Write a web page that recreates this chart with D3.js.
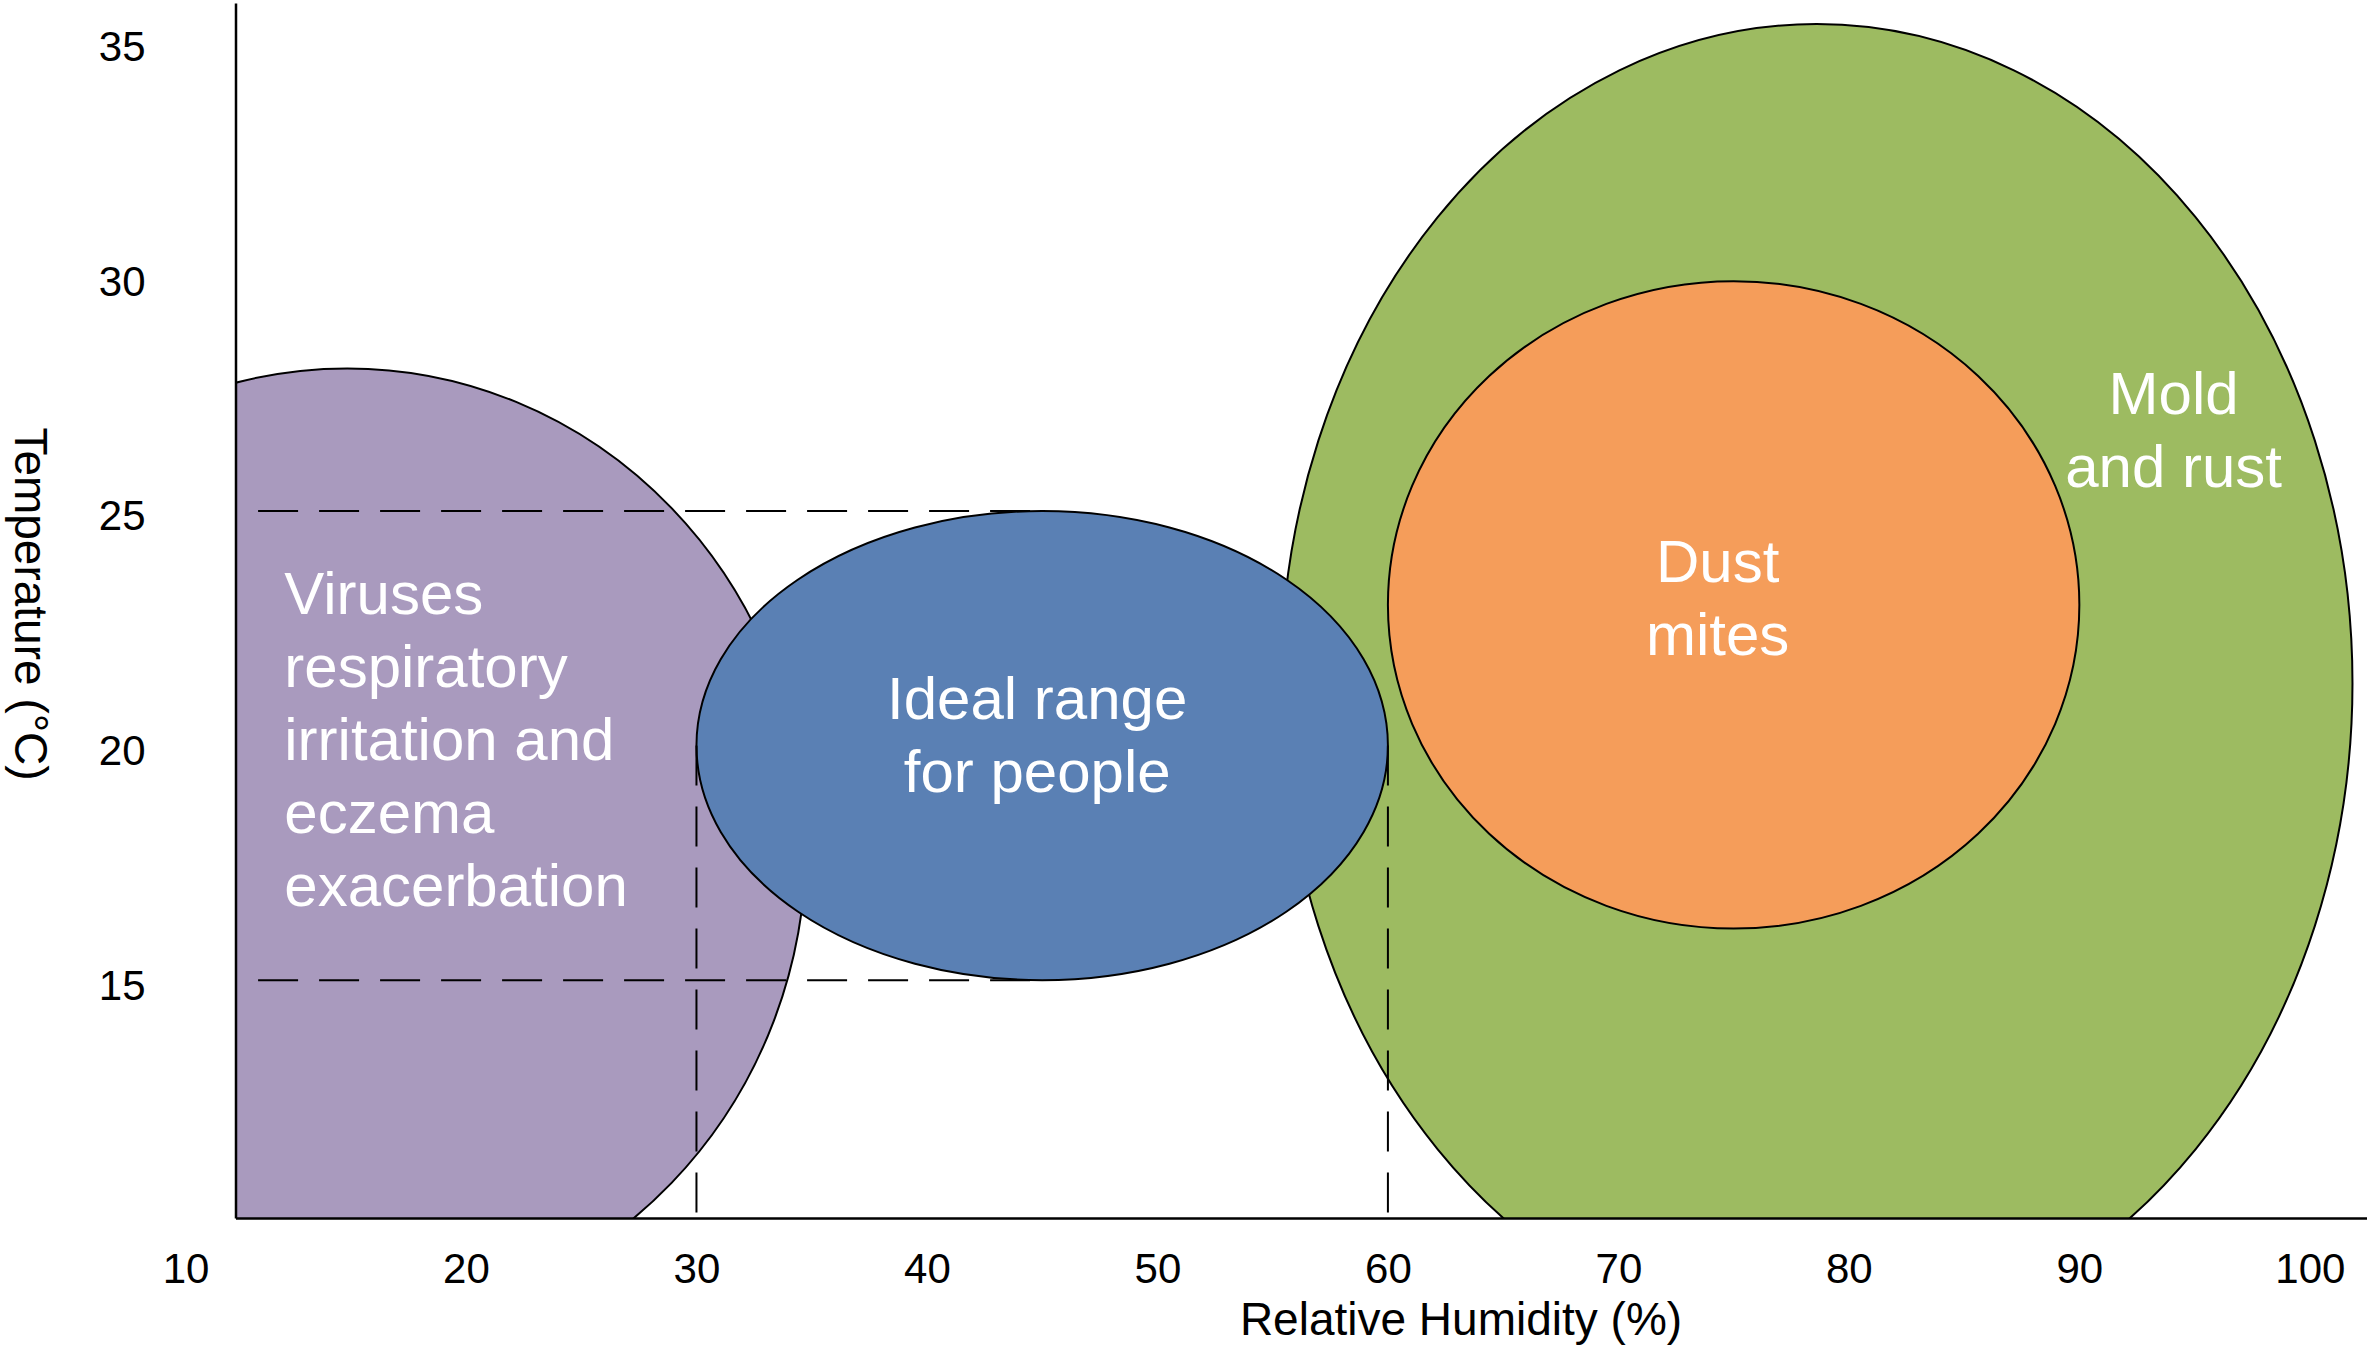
<!DOCTYPE html>
<html>
<head>
<meta charset="utf-8">
<script src="https://cdn.jsdelivr.net/npm/d3@7"></script>
<style>
  body { margin: 0; background: #fff; }
  text { font-family: "Liberation Sans", Arial, sans-serif; }
</style>
</head>
<body>
<div class="chart"></div>
<script>
// tick labels
const humidityTicks = [10, 20, 30, 40, 50, 60, 70, 80, 90, 100];
const tempTicks = [15, 20, 25, 30, 35];

// zones: centre and half-range in humidity (%) / temperature (°C)
const zoneNames = ['viruses', 'mold', 'dust', 'ideal'];
const zoneLabels = [
  ['Viruses', 'respiratory', 'irritation and', 'eczema', 'exacerbation'],
  ['Mold', 'and rust'],
  ['Dust', 'mites'],
  ['Ideal range', 'for people']
];
const zoneHumidity = [14.85, 78.6, 75, 45];
const zoneTemp = [17.87, 21.33, 23, 20];
const zoneHumiditySpread = [19.9, 23.25, 15, 15];
const zoneTempSpread = [10.17, 14.05, 6.9, 5];

// ideal range guide lines
const idealHumidity = [30, 60];
const idealTemp = [15, 25];
const guideStartHumidity = 10.98;

// styles / label layout (pixels, relative to zone centre)
const zoneColors = ['#a99abe', '#9dbb61', '#f59d5a', '#5a80b4'];
const labelOffset = [[-63, -232, 'start'], [357, -269, 'middle'], [-16, -23, 'middle'], [-5, -27, 'middle']];
const lineHeight = 73;

const width = 2367, height = 1348;
const plotLeft = 235.5, plotTop = 3, plotBottom = 1218;

const x = d3.scaleLinear().domain([10, 102.48]).range([plotLeft, width]);
const y = d3.scaleLinear().domain([9.93, 35.83]).range([plotBottom, plotTop]);

const svg = d3.select('.chart')
  .append('svg')
  .attr('width', width)
  .attr('height', height);

svg.append('clipPath')
  .attr('id', 'plotclip')
  .append('rect')
  .attr('x', plotLeft)
  .attr('y', 0)
  .attr('width', width - plotLeft)
  .attr('height', plotBottom);

const zones = zoneNames.map((name, i) => ({
  name: name,
  lines: zoneLabels[i],
  cx: zoneHumidity[i],
  cy: zoneTemp[i],
  rx: zoneHumiditySpread[i],
  ry: zoneTempSpread[i],
  color: zoneColors[i],
  off: labelOffset[i]
}));

const shapes = svg.append('g').attr('clip-path', 'url(#plotclip)');

shapes.selectAll('ellipse')
  .data(zones)
  .enter()
  .append('ellipse')
  .attr('cx', d => x(d.cx))
  .attr('cy', d => y(d.cy))
  .attr('rx', d => x(d.cx + d.rx) - x(d.cx))
  .attr('ry', d => y(d.cy - d.ry) - y(d.cy))
  .style('fill', d => d.color)
  .style('stroke', 'black')
  .style('stroke-width', '2px');

// dashed guides for the ideal range
const ideal = zones[3];
const guides = svg.append('g')
  .style('stroke', 'black')
  .style('stroke-width', '2px')
  .style('stroke-dasharray', '40,21');

idealTemp.forEach(t => {
  guides.append('line')
    .attr('x1', x(guideStartHumidity))
    .attr('x2', x(ideal.cx))
    .attr('y1', y(t))
    .attr('y2', y(t));
});
idealHumidity.forEach(h => {
  guides.append('line')
    .attr('x1', x(h))
    .attr('x2', x(h))
    .attr('y1', y(ideal.cy))
    .attr('y2', y.range()[0]);
});

// zone labels
zones.forEach(d => {
  const t = svg.append('text')
    .attr('x', x(d.cx) + d.off[0])
    .attr('y', y(d.cy) + d.off[1])
    .attr('text-anchor', d.off[2])
    .style('fill', 'white')
    .style('font-size', '60px');
  d.lines.forEach((line, j) => {
    t.append('tspan')
      .attr('x', x(d.cx) + d.off[0])
      .attr('y', y(d.cy) + d.off[1] + j * lineHeight)
      .text(line);
  });
});

// axes
const xAxis = svg.append('g')
  .attr('transform', `translate(0,${plotBottom})`)
  .call(d3.axisBottom(x).tickValues(humidityTicks).tickSize(0).tickSizeOuter(0).tickPadding(35));
const yAxis = svg.append('g')
  .attr('transform', `translate(${plotLeft},0)`)
  .call(d3.axisLeft(y).tickValues(tempTicks).tickSize(0).tickSizeOuter(0).tickPadding(90));

[xAxis, yAxis].forEach(a => {
  a.attr('font-family', null).attr('font-size', null);
  a.select('.domain').style('stroke', 'black').style('stroke-width', '2.5px');
  a.selectAll('text').style('font-size', '42px').style('fill', 'black');
});
yAxis.selectAll('.tick text').attr('dy', '0.45em');
// the "10" label sits left of the y axis
xAxis.selectAll('.tick text').filter(d => d === 10).attr('dx', -50);

svg.append('text')
  .attr('x', 1461)
  .attr('y', 1335)
  .attr('text-anchor', 'middle')
  .style('font-size', '46px')
  .text('Relative Humidity (%)');

svg.append('text')
  .attr('transform', 'translate(15,604) rotate(90)')
  .attr('text-anchor', 'middle')
  .style('font-size', '46px')
  .text('Temperature (°C)');
</script>
</body>
</html>
